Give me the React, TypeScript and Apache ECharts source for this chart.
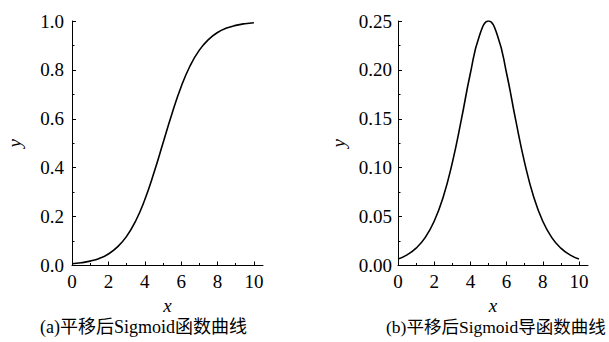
import React, { useEffect, useRef } from "react";
import * as echarts from "echarts";

const xValues = [0, 0.5, 1, 1.5, 2, 2.5, 3, 3.5, 4, 4.5, 5, 5.5, 6, 6.5, 7, 7.5, 8, 8.5, 9, 9.5, 10];
const sigmoidValues = [0.007, 0.011, 0.018, 0.029, 0.047, 0.076, 0.119, 0.182, 0.269, 0.378, 0.5, 0.622, 0.731, 0.818, 0.881, 0.924, 0.953, 0.971, 0.982, 0.989, 0.993];
const derivativeValues = [0.0066, 0.0109, 0.0177, 0.0285, 0.0452, 0.0701, 0.105, 0.1491, 0.1966, 0.235, 0.25, 0.235, 0.1966, 0.1491, 0.105, 0.0701, 0.0452, 0.0285, 0.0177, 0.0109, 0.0066];
const xTicks = [0, 2, 4, 6, 8, 10];
const xMinorTicks = [1, 3, 5, 7, 9];
const captions = ["(a)平移后Sigmoid函数曲线", "(b)平移后Sigmoid导函数曲线"];

const FONT = '"Liberation Serif", "Times New Roman", "Noto Sans CJK SC", serif';

function majorX(gridIndex: number) {
  return {
    type: "value",
    gridIndex,
    min: 0,
    max: 10.5,
    position: "bottom",
    axisLine: { show: true, onZero: false, lineStyle: { color: "#000", width: 1 } },
    axisTick: { show: true, inside: true, length: 4, customValues: xTicks, lineStyle: { color: "#000", width: 1 } },
    axisLabel: { customValues: xTicks, fontSize: 19, color: "#000", fontFamily: FONT, margin: 6 },
    splitLine: { show: false },
    name: "x",
    nameLocation: "middle",
    nameGap: 30,
    nameTextStyle: { fontStyle: "italic", fontSize: 19, color: "#000", fontFamily: FONT },
  };
}

function minorX(gridIndex: number) {
  return {
    type: "value",
    gridIndex,
    min: 0,
    max: 10.5,
    position: "bottom",
    axisLine: { show: false, onZero: false },
    axisTick: { show: true, inside: true, length: 2.5, customValues: xMinorTicks, lineStyle: { color: "#000", width: 1 } },
    axisLabel: { show: false },
    splitLine: { show: false },
  };
}

function yAxis(gridIndex: number, max: number, interval: number, digits: number, margin: number, nameGap: number) {
  return {
    type: "value",
    gridIndex,
    min: 0,
    max,
    interval,
    axisLine: { show: true, onZero: false, lineStyle: { color: "#000", width: 1 } },
    axisTick: { show: true, inside: true, length: 4, lineStyle: { color: "#000", width: 1 } },
    minorTick: { show: true, splitNumber: 2, length: 2.5, lineStyle: { color: "#000", width: 1 } },
    axisLabel: {
      fontSize: 19,
      color: "#000",
      fontFamily: FONT,
      margin,
      formatter: (v: number) => v.toFixed(digits),
    },
    splitLine: { show: false },
    minorSplitLine: { show: false },
    name: "y",
    nameLocation: "middle",
    nameGap,
    nameTextStyle: { fontStyle: "italic", fontSize: 19, color: "#000", fontFamily: FONT },
  };
}

export default function App() {
  const ref = useRef<HTMLDivElement>(null);
  useEffect(() => {
    if (!ref.current) return;
    const chart = echarts.init(ref.current, null, { renderer: "svg" });
    chart.setOption({
      animation: false,
      backgroundColor: "#fff",
      grid: [
        { left: 72, top: 21, width: 191, height: 244.5 },
        { left: 398, top: 21, width: 190, height: 244.5 },
      ],
      xAxis: [majorX(0), minorX(0), majorX(1), minorX(1)],
      yAxis: [yAxis(0, 1, 0.2, 1, 8, 48), yAxis(1, 0.25, 0.05, 2, 6, 50)],
      series: [
        {
          type: "line",
          xAxisIndex: 0,
          yAxisIndex: 0,
          data: xValues.map((x, i) => [x, sigmoidValues[i]]),
          showSymbol: false,
          smooth: true,
          lineStyle: { color: "#000", width: 1.6 },
        },
        {
          type: "line",
          xAxisIndex: 2,
          yAxisIndex: 1,
          data: xValues.map((x, i) => [x, derivativeValues[i]]),
          showSymbol: false,
          smooth: true,
          lineStyle: { color: "#000", width: 1.6 },
        },
      ],
      graphic: [
        { type: "text", left: 40, top: 318, style: { text: captions[0], font: `18px ${FONT}`, fill: "#000" } },
        { type: "text", left: 386, top: 318.5, style: { text: captions[1], font: `17.5px ${FONT}`, fill: "#000" } },
      ],
    });
    return () => chart.dispose();
  }, []);
  return (
    <div
      ref={ref}
      style={{ position: "fixed", left: 0, top: 0, width: 609, height: 342, background: "#fff" }}
    />
  );
}
